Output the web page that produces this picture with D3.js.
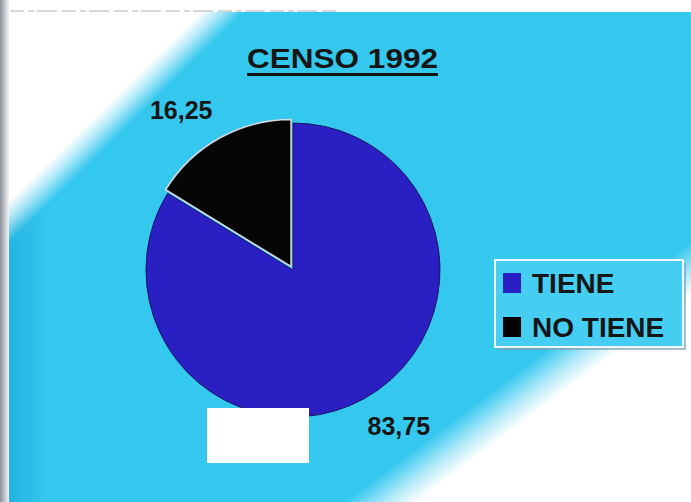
<!DOCTYPE html>
<html>
<head>
<meta charset="utf-8">
<script src="https://cdn.jsdelivr.net/npm/d3@7"></script>
<style>
  html, body { margin: 0; padding: 0; background: #ffffff; }
  svg { display: block; }
  text { font-family: "Liberation Sans", Arial, sans-serif; font-weight: bold; fill: #161616; }
</style>
</head>
<body>
<svg id="chart" width="691" height="502"></svg>
<script>
// ---- data ----
const title = "CENSO 1992";
const categories = ["TIENE", "NO TIENE"];
const values = [83.75, 16.25];
const valueLabels = ["83,75", "16,25"];
const colors = ["#2a1fc2", "#050505"];

const W = 691, H = 502;
const svg = d3.select("#chart");
const defs = svg.append("defs");

// background gradients
const g1 = defs.append("linearGradient").attr("id", "ul").attr("gradientUnits", "userSpaceOnUse")
  .attr("x1", 0).attr("y1", 0).attr("x2", 0.70 * 400).attr("y2", 0.71 * 400);
g1.append("stop").attr("offset", 0.375).attr("stop-color", "#ffffff").attr("stop-opacity", 1);
g1.append("stop").attr("offset", 0.41).attr("stop-color", "#ffffff").attr("stop-opacity", 0.6);
g1.append("stop").attr("offset", 0.45).attr("stop-color", "#ffffff").attr("stop-opacity", 0);

const g2 = defs.append("linearGradient").attr("id", "lr").attr("gradientUnits", "userSpaceOnUse")
  .attr("x1", 0).attr("y1", 0).attr("x2", 0.6 * 800).attr("y2", 0.8 * 800);
g2.append("stop").attr("offset", 0.76).attr("stop-color", "#ffffff").attr("stop-opacity", 0);
g2.append("stop").attr("offset", 0.79).attr("stop-color", "#ffffff").attr("stop-opacity", 0.6);
g2.append("stop").attr("offset", 0.815).attr("stop-color", "#ffffff").attr("stop-opacity", 1);

const gl = defs.append("linearGradient").attr("id", "leftedge").attr("x1", 0).attr("x2", 1).attr("y1", 0).attr("y2", 0);
gl.append("stop").attr("offset", 0).attr("stop-color", "#1aa6d8");
gl.append("stop").attr("offset", 1).attr("stop-color", "#1aa6d8").attr("stop-opacity", 0);

const gs = defs.append("linearGradient").attr("id", "scan").attr("x1", 0).attr("x2", 1).attr("y1", 0).attr("y2", 0);
gs.append("stop").attr("offset", 0).attr("stop-color", "#8a8f98");
gs.append("stop").attr("offset", 0.6).attr("stop-color", "#c9ccd2");
gs.append("stop").attr("offset", 1).attr("stop-color", "#f4f4f4");

const area = { x: 9, y: 12 };
svg.append("rect").attr("x", area.x).attr("y", area.y).attr("width", W - area.x).attr("height", H - area.y).attr("fill", "#35c8ef");
svg.append("rect").attr("x", area.x).attr("y", area.y).attr("width", 40).attr("height", H - area.y).attr("fill", "url(#leftedge)").attr("opacity", 0.6);
svg.append("rect").attr("x", area.x).attr("y", area.y).attr("width", W - area.x).attr("height", H - area.y).attr("fill", "url(#ul)");
svg.append("rect").attr("x", area.x).attr("y", area.y).attr("width", W - area.x).attr("height", H - area.y).attr("fill", "url(#lr)");
// scan edge
svg.append("rect").attr("x", 0).attr("y", 0).attr("width", area.x).attr("height", H).attr("fill", "url(#scan)");
svg.append("line").attr("x1", 10).attr("x2", 340).attr("y1", 11).attr("y2", 11)
  .attr("stroke", "#aab0b8").attr("stroke-width", 1.2).attr("stroke-dasharray", "14,4,6,3,20,5");

// title
svg.append("text").attr("x", 247).attr("y", 68)
  .attr("textLength", 191).attr("lengthAdjust", "spacingAndGlyphs")
  .style("font-size", "28px").text(title);
svg.append("rect").attr("x", 247).attr("y", 73).attr("width", 191).attr("height", 3).attr("fill", "#161616");

// pie
const cx = 293, cy = 270, r = 147;
const pie = d3.pie().sort(null).value(d => d);
const arcs = pie(values);
const arc = d3.arc().innerRadius(0).outerRadius(r);
const explode = [0, 4];
const g = svg.append("g").attr("transform", `translate(${cx},${cy})`);
arcs.forEach((a, i) => {
  const mid = (a.startAngle + a.endAngle) / 2;
  const dx = Math.sin(mid) * explode[i], dy = -Math.cos(mid) * explode[i];
  g.append("path").attr("d", arc(a)).attr("transform", `translate(${dx},${dy})`)
    .attr("fill", colors[i])
    .attr("stroke", i === 1 ? "#d8d8e0" : "#1a1560")
    .attr("stroke-width", i === 1 ? 1.5 : 1);
});

// value labels
const labelArc = d3.arc().innerRadius(r + 22).outerRadius(r + 22);
arcs.forEach((a, i) => {
  const [lx, ly] = labelArc.centroid(a);
  const left = lx < 0;
  g.append("text")
    .attr("x", left ? lx + 2 : lx - 8)
    .attr("y", left ? ly - 4 : ly + 18)
    .attr("text-anchor", left ? "end" : "start")
    .style("font-size", "25px")
    .text(valueLabels[i]);
});

// legend
const lg = svg.append("g").attr("transform", "translate(495,260)");
lg.append("rect").attr("x", 3).attr("y", 3).attr("width", 188).attr("height", 87).attr("fill", "#7f9fb0").attr("opacity", 0.7);
lg.append("rect").attr("x", 0).attr("y", 0).attr("width", 188).attr("height", 87)
  .attr("fill", "#45cdf2").attr("stroke", "#eef6fa").attr("stroke-width", 2);
const itemY = [33, 77];
categories.forEach((c, i) => {
  lg.append("rect").attr("x", 8).attr("y", itemY[i] - 20).attr("width", 18).attr("height", 20).attr("fill", colors[i]);
  lg.append("text").attr("x", 37).attr("y", itemY[i]).style("font-size", "28px").text(c);
});

// white patch
svg.append("rect").attr("x", 207).attr("y", 408).attr("width", 102).attr("height", 55).attr("fill", "#ffffff");
</script>
</body>
</html>
